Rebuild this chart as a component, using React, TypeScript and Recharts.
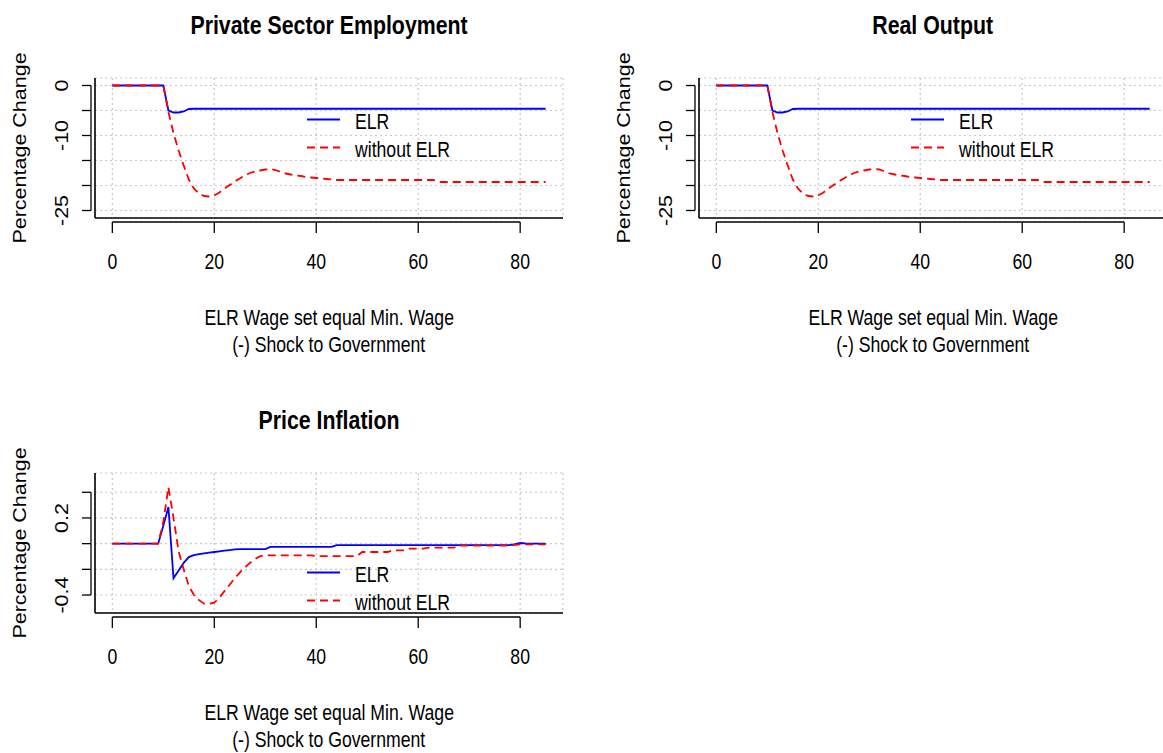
import React from 'react';
import { LineChart, Line, XAxis, YAxis, CartesianGrid, Legend } from 'recharts';

// quarters after the shock, 0..85
const periods = Array.from({ length: 86 }, (_, i) => i);

const xTicks = [0, 20, 40, 60, 80];

// Private sector employment, % change
const empElr = [
  0, 0, 0, 0, 0, 0, 0, 0, 0, 0, 0,
  -5.0, -5.4, -5.4, -5.2, -4.7,
  -4.65, -4.65, -4.65, -4.65, -4.65, -4.65, -4.65, -4.65, -4.65, -4.65,
  -4.65, -4.65, -4.65, -4.65, -4.65, -4.65, -4.65, -4.65, -4.65, -4.65,
  -4.65, -4.65, -4.65, -4.65, -4.65, -4.65, -4.65, -4.65, -4.65, -4.65,
  -4.65, -4.65, -4.65, -4.65, -4.65, -4.65, -4.65, -4.65, -4.65, -4.65,
  -4.65, -4.65, -4.65, -4.65, -4.65, -4.65, -4.65, -4.65, -4.65, -4.65,
  -4.65, -4.65, -4.65, -4.65, -4.65, -4.65, -4.65, -4.65, -4.65, -4.65,
  -4.65, -4.65, -4.65, -4.65, -4.65, -4.65, -4.65, -4.65, -4.65, -4.65,
];
const empNoElr = [
  0, 0, 0, 0, 0, 0, 0, 0, 0, 0, 0,
  -5.3, -9.5, -13.0, -16.0, -18.8, -20.6, -21.6, -22.1, -22.2, -22.0,
  -21.4, -20.6, -19.9, -19.2, -18.6, -18.0, -17.5, -17.2, -17.0, -16.8,
  -16.7, -16.9, -17.3, -17.6, -17.8, -18.0, -18.1, -18.3, -18.4, -18.5,
  -18.6, -18.7, -18.8,
  -18.9, -18.9, -18.9, -18.9, -18.9, -18.9, -18.9, -18.9, -18.9, -18.9,
  -18.9, -18.9, -18.9, -18.9, -18.9, -18.9, -18.9, -18.9, -18.9, -18.9,
  -19.3, -19.3, -19.3, -19.3, -19.3, -19.3, -19.3, -19.3, -19.3, -19.3, -19.3,
  -19.3, -19.3, -19.3, -19.3, -19.3, -19.3, -19.3, -19.3, -19.3, -19.3, -19.3,
];

// Real output, % change
const outElr = [
  0, 0, 0, 0, 0, 0, 0, 0, 0, 0, 0,
  -5.0, -5.4, -5.4, -5.2, -4.7,
  -4.65, -4.65, -4.65, -4.65, -4.65, -4.65, -4.65, -4.65, -4.65, -4.65,
  -4.65, -4.65, -4.65, -4.65, -4.65, -4.65, -4.65, -4.65, -4.65, -4.65,
  -4.65, -4.65, -4.65, -4.65, -4.65, -4.65, -4.65, -4.65, -4.65, -4.65,
  -4.65, -4.65, -4.65, -4.65, -4.65, -4.65, -4.65, -4.65, -4.65, -4.65,
  -4.65, -4.65, -4.65, -4.65, -4.65, -4.65, -4.65, -4.65, -4.65, -4.65,
  -4.65, -4.65, -4.65, -4.65, -4.65, -4.65, -4.65, -4.65, -4.65, -4.65,
  -4.65, -4.65, -4.65, -4.65, -4.65, -4.65, -4.65, -4.65, -4.65, -4.65,
];
const outNoElr = [
  0, 0, 0, 0, 0, 0, 0, 0, 0, 0, 0,
  -5.3, -9.5, -13.0, -16.0, -18.8, -20.6, -21.6, -22.1, -22.2, -22.0,
  -21.4, -20.6, -19.9, -19.2, -18.6, -18.0, -17.5, -17.2, -17.0, -16.8,
  -16.7, -16.8, -17.2, -17.6, -17.8, -18.0, -18.1, -18.3, -18.4, -18.5,
  -18.6, -18.7, -18.8,
  -18.9, -18.9, -18.9, -18.9, -18.9, -18.9, -18.9, -18.9, -18.9, -18.9,
  -18.9, -18.9, -18.9, -18.9, -18.9, -18.9, -18.9, -18.9, -18.9, -18.9,
  -19.3, -19.3, -19.3, -19.3, -19.3, -19.3, -19.3, -19.3, -19.3, -19.3, -19.3,
  -19.3, -19.3, -19.3, -19.3, -19.3, -19.3, -19.3, -19.3, -19.3, -19.3, -19.3,
];

// Price inflation, % change
const infElr = [
  0, 0, 0, 0, 0, 0, 0, 0, 0, 0,
  0.14, 0.285, -0.27, -0.21, -0.15, -0.105, -0.09, -0.082, -0.075, -0.07,
  -0.065, -0.06, -0.055, -0.05, -0.045,
  -0.042, -0.042, -0.042, -0.042, -0.042, -0.042,
  -0.025, -0.025, -0.025, -0.025, -0.025, -0.025, -0.025, -0.025, -0.025,
  -0.025, -0.025, -0.025, -0.025,
  -0.012, -0.012, -0.012, -0.012, -0.012, -0.012, -0.012, -0.012, -0.012,
  -0.012, -0.012, -0.012, -0.012, -0.012, -0.012, -0.012, -0.012, -0.012,
  -0.012, -0.012, -0.012, -0.012, -0.012, -0.012, -0.012, -0.012, -0.012,
  -0.012, -0.012, -0.012, -0.012, -0.012, -0.012, -0.012, -0.012,
  -0.004, 0.005, 0.002, 0, 0, 0, 0,
];
const infNoElr = [
  0, 0, 0, 0, 0, 0, 0, 0, 0, 0,
  0.17, 0.44, 0.2, -0.06, -0.2, -0.33, -0.4, -0.44, -0.467, -0.467,
  -0.46, -0.42, -0.37, -0.32, -0.27, -0.225, -0.185, -0.15, -0.12, -0.097,
  -0.092, -0.092, -0.092, -0.092, -0.092, -0.092, -0.092, -0.092, -0.092, -0.092,
  -0.097, -0.097, -0.097, -0.097, -0.097, -0.097, -0.097, -0.097, -0.097,
  -0.065, -0.065, -0.065, -0.065, -0.065, -0.065,
  -0.052, -0.052, -0.052,
  -0.039, -0.039, -0.039, -0.039,
  -0.031, -0.031, -0.031, -0.031, -0.031, -0.031,
  -0.016, -0.016, -0.016, -0.016, -0.016, -0.016, -0.016, -0.016, -0.016, -0.016, -0.016,
  -0.01, -0.005, -0.005, -0.005, -0.005, -0.005, -0.005,
];

const levelTicks = [-25, -20, -15, -10, -5, 0];
const levelLabels = [-25, -10, 0];
const inflTicks = [-0.4, -0.2, 0, 0.2, 0.4];
const inflLabels = [-0.4, 0.2];

// the figure is drawn in Arial-like glyphs squeezed horizontally
const SANS = '"Liberation Sans", Arial, sans-serif';
const SQUEEZE = 0.82;
const FS = 21.5;

const PAGE_W = 1163;
const W = 600;
const H = 380;
const PLOT_LEFT = 95;
const PLOT_TOP = 78;
const PLOT_W = 468;
const PLOT_H = 140;
const X_DOMAIN: [number, number] = [-3.4, 88.4];

const zip = (elr: number[], noElr: number[]) =>
  periods.map((t, i) => ({ t, elr: elr[i], noElr: noElr[i] }));

const Narrow = ({ children, origin = 'center', style }: { children: React.ReactNode; origin?: string; style?: React.CSSProperties }) => (
  <span style={{ display: 'inline-block', transform: `scaleX(${SQUEEZE})`, transformOrigin: origin, whiteSpace: 'nowrap', ...style }}>
    {children}
  </span>
);

const XTick = (props: any) => {
  const { x, y, payload, step } = props;
  const last = payload.value === xTicks[xTicks.length - 1];
  return (
    <g>
      <line x1={x} y1={y + 4} x2={x} y2={y + 15} stroke="#000" strokeWidth={1.3} />
      {!last && <line x1={x} y1={y + 4} x2={x + step} y2={y + 4} stroke="#000" strokeWidth={1.3} />}
      <text transform={`translate(${x},${y + 43}) scale(${SQUEEZE},1)`} textAnchor="middle" dominantBaseline="central"
        fontFamily={SANS} fontSize={FS} fill="#000">
        {payload.value}
      </text>
    </g>
  );
};

const YTick = (props: any) => {
  const { x, y, payload, step, ticks, labels } = props;
  const top = payload.value === ticks[ticks.length - 1];
  const shown = labels.some((v: number) => Math.abs(v - payload.value) < 1e-9);
  return (
    <g>
      <line x1={x - 4} y1={y} x2={x - 13} y2={y} stroke="#000" strokeWidth={1.3} />
      {!top && <line x1={x - 4} y1={y} x2={x - 4} y2={y - step} stroke="#000" strokeWidth={1.3} />}
      {shown && (
        <text transform={`translate(${x - 33},${y}) scale(${SQUEEZE},1) rotate(-90)`}
          textAnchor="middle" dominantBaseline="central"
          fontFamily={SANS} fontSize={FS} fill="#000">
          {String(payload.value)}
        </text>
      )}
    </g>
  );
};

const renderLegend = (props: any) => (
  <div>
    {props.payload.map((p: any) => (
      <div key={p.value} style={{ display: 'flex', alignItems: 'flex-start', height: 28 }}>
        <svg width={49} height={28} style={{ display: 'block', flex: 'none' }}>
          <line x1={1} x2={34} y1={11.5} y2={11.5} stroke={p.color} strokeWidth={1.8}
            strokeDasharray={p.payload?.strokeDasharray} />
        </svg>
        <Narrow origin="left" style={{ fontFamily: SANS, fontSize: FS, lineHeight: '28px', color: '#000' }}>
          {p.value}
        </Narrow>
      </div>
    ))}
  </div>
);

type PanelProps = {
  title: string;
  left: number;
  top: number;
  data: { t: number; elr: number; noElr: number }[];
  yDomain: [number, number];
  yTicks: number[];
  yLabels: number[];
  legendTop: number;
};

const Panel = ({ title, left, top, data, yDomain, yTicks, yLabels, legendTop }: PanelProps) => {
  const xStep = (PLOT_W * 20) / (X_DOMAIN[1] - X_DOMAIN[0]);
  const yStep = (PLOT_H * (yTicks[1] - yTicks[0])) / (yDomain[1] - yDomain[0]);
  const cx = PLOT_LEFT + PLOT_W / 2;
  const textStyle: React.CSSProperties = {
    position: 'absolute', left: cx - 250, width: 500, textAlign: 'center',
    fontFamily: SANS, fontSize: FS, lineHeight: '26px', color: '#000',
  };
  // the right-hand panel runs past the page edge, its right frame side is cut off
  const viewW = Math.min(W, PAGE_W - left);
  const rightFrame = left + PLOT_LEFT + PLOT_W < PAGE_W;
  return (
    <div style={{ position: 'absolute', left, top, width: viewW, height: H, overflow: 'hidden' }}>
      <div style={{ ...textStyle, top: 12, fontSize: 26, fontWeight: 'bold' }}><Narrow>{title}</Narrow></div>
      <div style={{ ...textStyle, top: 305 }}><Narrow>ELR Wage set equal Min. Wage</Narrow></div>
      <div style={{ ...textStyle, top: 332 }}><Narrow>(-) Shock to Government</Narrow></div>
      <svg style={{ position: 'absolute', left: 0, top: 0, overflow: 'visible' }} width={40} height={H}>
        <text transform={`translate(20,${PLOT_TOP + PLOT_H / 2}) scale(${SQUEEZE},1) rotate(-90)`}
          textAnchor="middle" dominantBaseline="central" fontFamily={SANS} fontSize={FS} fill="#000">
          Percentage Change
        </text>
      </svg>
      <div style={{ position: 'absolute', left: 0, top: 0, width: W, height: H }}>
        <LineChart width={W} height={H} data={data}
          margin={{ top: PLOT_TOP, right: W - PLOT_LEFT - PLOT_W, bottom: 0, left: 0 }}>
          <CartesianGrid stroke="#c8c8c8" strokeWidth={1.2} strokeDasharray="2 3" />
          <XAxis dataKey="t" type="number" domain={X_DOMAIN} ticks={xTicks} height={H - PLOT_TOP - PLOT_H}
            interval={0} tickSize={0} tickMargin={0} tickLine={false}
            axisLine={{ stroke: '#000', strokeWidth: 1.6 }}
            tick={<XTick step={xStep} />} />
          <XAxis xAxisId="top" dataKey="t" type="number" domain={X_DOMAIN} orientation="top" height={0}
            tick={false} tickLine={false} axisLine={{ stroke: '#000', strokeWidth: 1.6 }} />
          <YAxis type="number" domain={yDomain} ticks={yTicks} width={PLOT_LEFT} interval={0}
            tickSize={0} tickMargin={0} tickLine={false} allowDataOverflow
            axisLine={{ stroke: '#000', strokeWidth: 1.6 }}
            tick={<YTick step={yStep} ticks={yTicks} labels={yLabels} />} />
          <YAxis yAxisId="right" type="number" domain={yDomain} orientation="right" width={0}
            tick={false} tickLine={false}
            axisLine={rightFrame ? { stroke: '#000', strokeWidth: 1.6 } : false} />
          <Legend layout="vertical" align="center" verticalAlign="middle" content={renderLegend}
            wrapperStyle={{ position: 'absolute', left: 306, top: legendTop, width: 'auto', height: 'auto' }} />
          <Line type="linear" dataKey="elr" name="ELR" stroke="#0000ff" strokeWidth={1.8}
            dot={false} isAnimationActive={false} />
          <Line type="linear" dataKey="noElr" name="without ELR" stroke="#ff0000" strokeWidth={1.8}
            strokeDasharray="8 5" dot={false} isAnimationActive={false} />
        </LineChart>
      </div>
    </div>
  );
};

export default function App() {
  return (
    <div style={{ position: 'absolute', left: 0, top: 0, width: PAGE_W, height: 753, overflow: 'hidden', background: '#fff' }}>
      <Panel title="Private Sector Employment" left={0} top={0} data={zip(empElr, empNoElr)}
        yDomain={[-26.5, 1.5]} yTicks={levelTicks} yLabels={levelLabels} legendTop={108} />
      <Panel title="Real Output" left={604} top={0} data={zip(outElr, outNoElr)}
        yDomain={[-26.5, 1.5]} yTicks={levelTicks} yLabels={levelLabels} legendTop={108} />
      <Panel title="Price Inflation" left={0} top={395} data={zip(infElr, infNoElr)}
        yDomain={[-0.54, 0.55]} yTicks={inflTicks} yLabels={inflLabels} legendTop={166} />
    </div>
  );
}
